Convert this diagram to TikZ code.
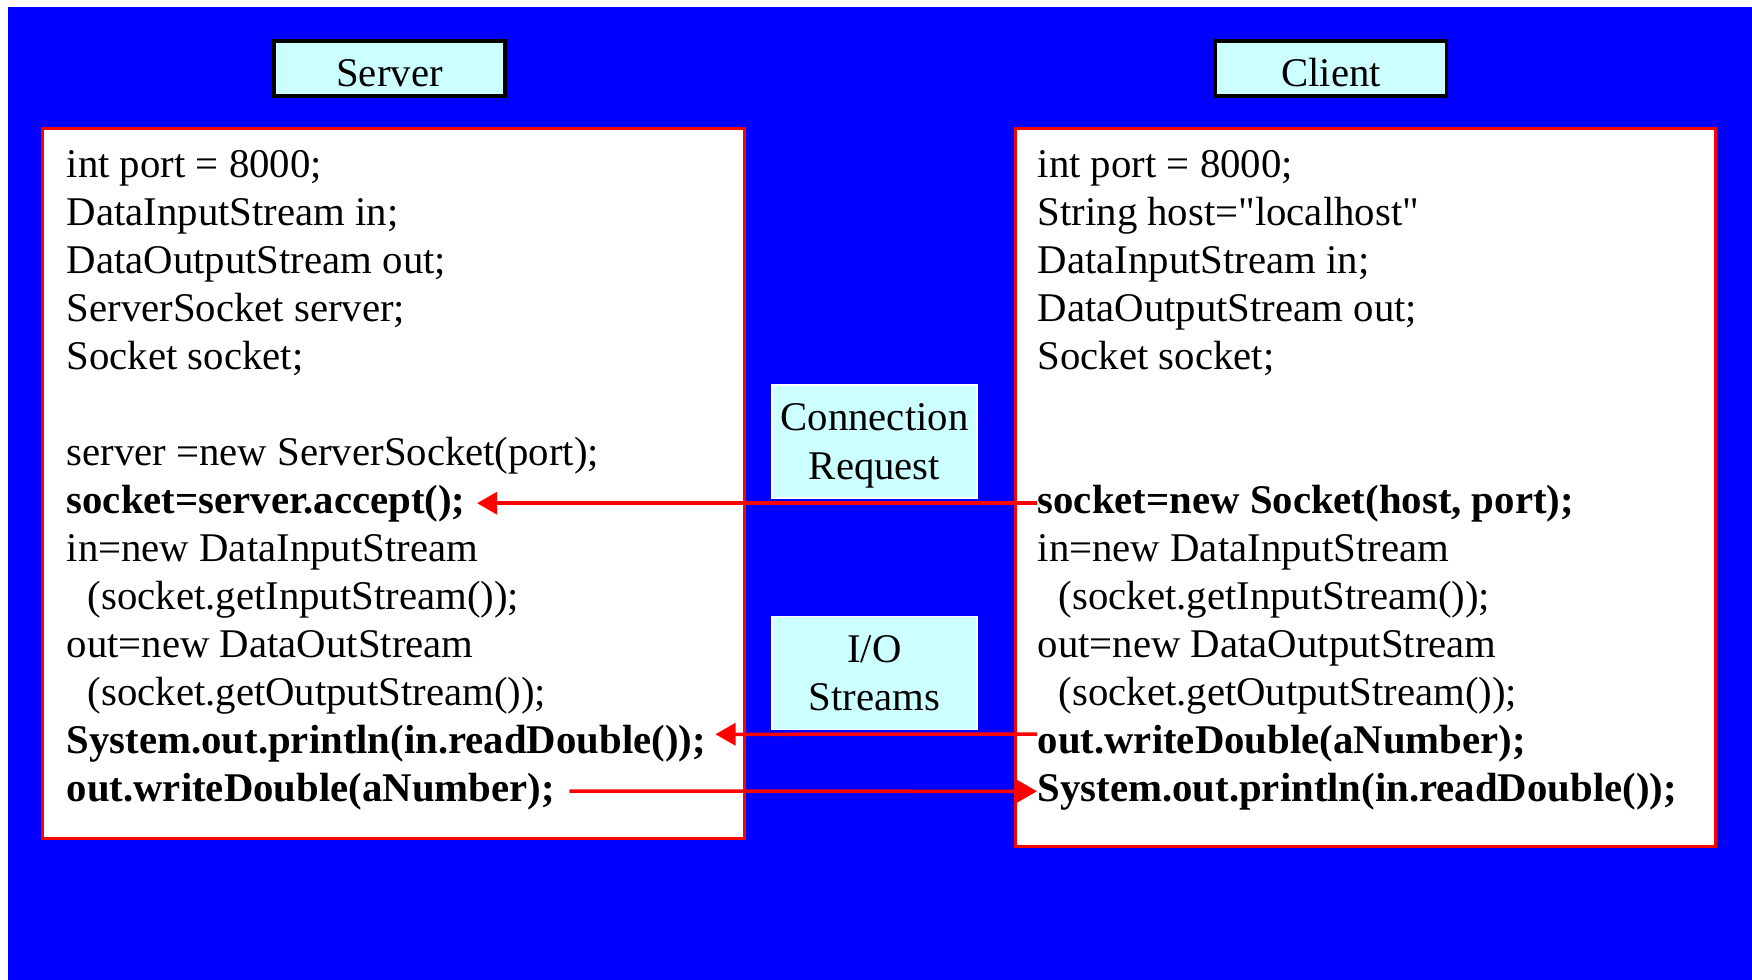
\documentclass[tikz,border=0pt]{standalone}
\usepackage{fontspec}
\setmainfont{Liberation Serif}
\newfontfamily\codeserif{Liberation Serif}
\usetikzlibrary{arrows.meta}
\definecolor{slideblue}{RGB}{0,0,255}
\definecolor{paleaqua}{RGB}{204,255,255}
\definecolor{linkred}{RGB}{255,0,0}
\newcommand{\codefont}{\codeserif\fontsize{11.6}{13.7}\selectfont}

\begin{document}
\begin{tikzpicture}[x=0.1mm,y=-0.1mm,
  code/.style={anchor=base west,inner sep=0pt,font=\codefont},
  codebf/.style={anchor=base west,inner sep=0pt,font=\codefont\bfseries},
  title/.style={draw=black,line width=0.35mm,fill=paleaqua,minimum width=23.1mm,minimum height=5.5mm,inner sep=0pt,text height=3.6mm,text depth=0mm,font=\codefont},
  tag/.style={draw=white,line width=0.15mm,fill=paleaqua,minimum width=20.5mm,minimum height=11.3mm,inner sep=0pt,align=center,text depth=0mm,font=\codefont},
  panel/.style={draw=linkred,line width=0.3mm,fill=white},
  link/.style={draw=linkred,line width=0.35mm,-{Triangle[length=2mm,width=2.2mm]}}]
  \useasboundingbox (0,0) rectangle (1752,980);
  \fill[white] (0,0) rectangle (1752,980);
  \fill[slideblue] (8,7) rectangle (1752,980);
  \node[title] (srvtitle) at (389.5,68.5) {Server};
  \node[title] (clititle) at (1331,68.5) {Client};
  \draw[panel] (42,128) rectangle (744,838);
  \draw[panel] (1015,128) rectangle (1715,846);
  \node[tag] (connreq) at (874.5,441.5) {Connection\\Request};
  \node[tag] (iostreams) at (874.5,673) {I/O\\Streams};
  % server side
  \node[code] (srvport) at (66,177) {int port = 8000;};
  \node[code] (srvin) at (66,225) {DataInputStream in;};
  \node[code] (srvout) at (66,273) {DataOutputStream out;};
  \node[code] (srvserver) at (66,321) {ServerSocket server;};
  \node[code] (srvsocket) at (66,369) {Socket socket;};
  \node[code] (srvnew) at (66,465) {server =new ServerSocket(port);};
  \node[codebf] (srvaccept) at (66,513) {socket=server.accept();};
  \node[code] (srvinnew) at (66,561) {in=new DataInputStream};
  \node[code] (srvinget) at (87,609) {(socket.getInputStream());};
  \node[code] (srvoutnew) at (66,657) {out=new DataOutStream};
  \node[code] (srvoutget) at (87,705) {(socket.getOutputStream());};
  \node[codebf] (srvprint) at (66,753) {System.out.println(in.readDouble());};
  \node[codebf] (srvwrite) at (66,801) {out.writeDouble(aNumber);};
  % client side
  \node[code] (cliport) at (1037,177) {int port = 8000;};
  \node[code] (clihost) at (1037,225) {String host="localhost"};
  \node[code] (cliin) at (1037,273) {DataInputStream in;};
  \node[code] (cliout) at (1037,321) {DataOutputStream out;};
  \node[code] (clisock) at (1037,369) {Socket socket;};
  \node[codebf] (clisocket) at (1037,513) {socket=new Socket(host, port);};
  \node[code] (cliinnew) at (1037,561) {in=new DataInputStream};
  \node[code] (cliinget) at (1058,609) {(socket.getInputStream());};
  \node[code] (clioutnew) at (1037,657) {out=new DataOutputStream};
  \node[code] (clioutget) at (1058,705) {(socket.getOutputStream());};
  \node[codebf] (cliwrite) at (1037,753) {out.writeDouble(aNumber);};
  \node[codebf] (cliprint) at (1037,801) {System.out.println(in.readDouble());};
  \draw[link,shorten >=1.1mm] (clisocket.west) -- (srvaccept.east);
  \draw[link,shorten >=0.9mm] ([yshift=0.9mm]cliwrite.west) -- ([yshift=0.9mm]srvprint.east);
  \draw[link,shorten <=1.4mm] (srvwrite.east) -- (cliprint.west);
\end{tikzpicture}
\end{document}
